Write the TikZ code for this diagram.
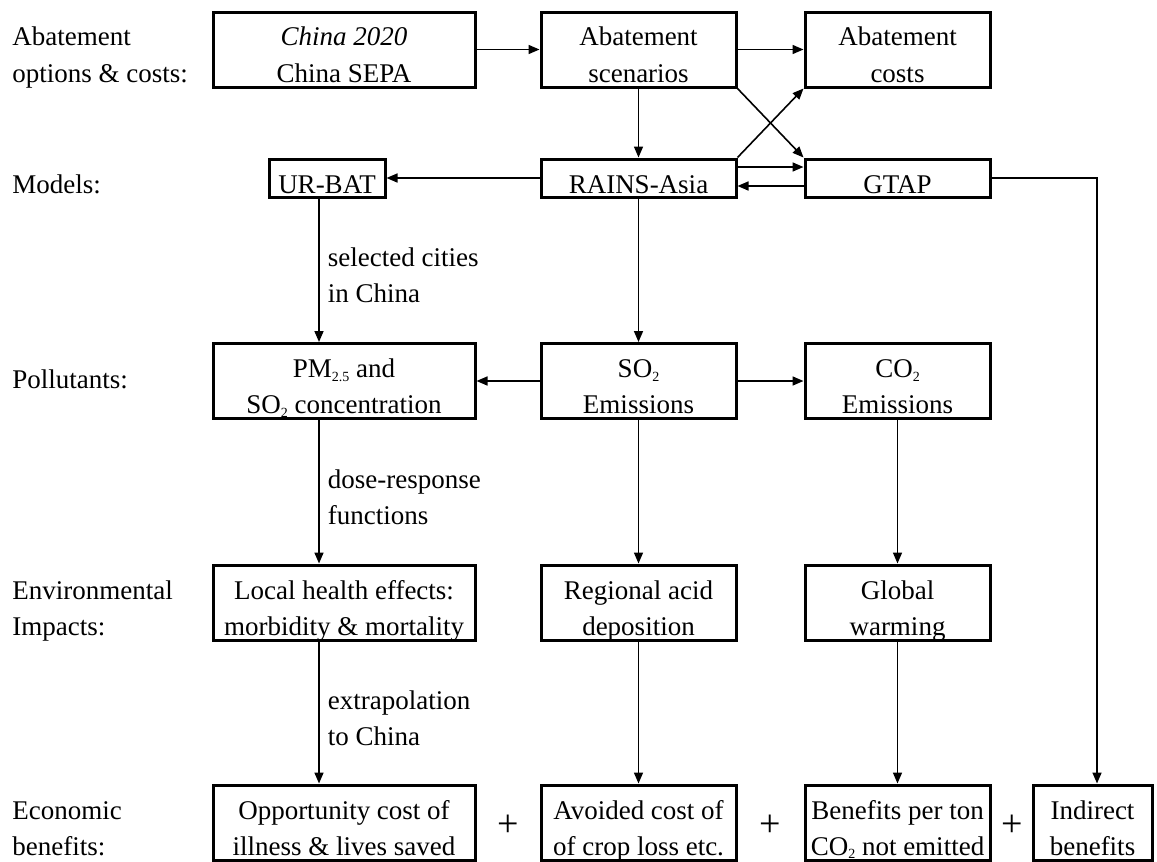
\documentclass[tikz,border=0pt]{standalone}
\usepackage{fontspec}
\setmainfont{Liberation Serif}
\usetikzlibrary{arrows.meta}
\tikzset{
  box/.style={draw, line width=1.5pt, inner sep=0pt, align=center, text depth=0pt, text height=32.5pt, minimum height=37.5pt},
  slim/.style={box, text height=15pt, minimum height=19pt},
  wa/.style={minimum width=131pt},
  wb/.style={minimum width=97.5pt},
  wc/.style={minimum width=92.5pt},
  title/.style={anchor=west, align=left, inner sep=0pt, text depth=0pt, text height=32.5pt},
  one/.style={text height=15pt},
  side/.style={midway, right=4pt, align=left, inner sep=0pt, text depth=0pt, text height=32.5pt},
  arr/.style={line width=0.8pt, -{Triangle[length=5.5pt,width=4.5pt]}},
  plus/.style={inner sep=0pt, font=\fontsize{19pt}{19pt}\selectfont},
}
\newcommand{\lowtext}[1]{\raisebox{-0.3ex}{\fontsize{7pt}{7pt}\selectfont #1}}

\begin{document}
\begin{tikzpicture}[x=0.5pt, y=-0.5pt, font=\fontsize{13.5pt}{18pt}\selectfont]
  \useasboundingbox (0,0) rectangle (1157,862);
  \coordinate (lx) at (319,0);

  % row titles
  \node[title] (t1) at (12,49.5) {Abatement\\options \& costs:};
  \node[title, one] (t2) at (12,178) {Models:};
  \node[title, one] (t3) at (12,373) {Pollutants:};
  \node[title] (t4) at (12,602.5) {Environmental\\Impacts:};
  \node[title] (t5) at (12,822.5) {Economic\\benefits:};

  % options and costs
  \node[box, wa] (china) at (344,49.5) {\textit{China 2020}\\China SEPA};
  \node[box, wb] (scen) at (638.5,49.5) {Abatement\\scenarios};
  \node[box, wc] (costs) at (897.5,49.5) {Abatement\\costs};

  % models
  \node[slim, minimum width=58pt] (urbat) at (327,178) {UR-BAT};
  \node[slim, wb] (rains) at (638.5,178) {RAINS-Asia};
  \node[slim, wc] (gtap) at (897.5,178) {GTAP};

  % pollutants
  \node[box, wa] (pm) at (344,381) {PM\lowtext{2.5} and\\SO\lowtext{2} concentration};
  \node[box, wb] (so2) at (638.5,381) {SO\lowtext{2}\\Emissions};
  \node[box, wc] (co2) at (897.5,381) {CO\lowtext{2}\\Emissions};

  % impacts
  \node[box, wa] (health) at (344,602.5) {Local health effects:\\morbidity \& mortality};
  \node[box, wb] (acid) at (638.5,602.5) {Regional acid\\deposition};
  \node[box, wc] (warm) at (897.5,602.5) {Global\\warming};

  % benefits
  \node[box, wa] (illness) at (344,822.5) {Opportunity cost of\\illness \& lives saved};
  \node[box, wb] (crop) at (638.5,822.5) {Avoided cost of\\of crop loss etc.};
  \node[box, wc] (perton) at (897.5,822.5) {Benefits per ton\\CO\lowtext{2} not emitted};
  \node[box, minimum width=59.5pt] (indirect) at (1092.5,822.5) {Indirect\\benefits};
  \node[plus] (p1) at (508,826) {+};
  \node[plus] (p2) at (770,826) {+};
  \node[plus] (p3) at (1012,826) {+};

  \draw[arr] (china) -- (scen);
  \draw[arr] (scen) -- (costs);
  \draw[arr] (scen) -- (rains);
  \draw[arr] (scen.south east) -- (gtap.north west);
  \draw[arr] (rains.north east) -- (costs.south west);
  \draw[arr] (rains) -- (urbat);
  \draw[arr] ([yshift=5.5pt]rains.east) -- ([yshift=5.5pt]gtap.west);
  \draw[arr] ([yshift=-4pt]gtap.west) -- ([yshift=-4pt]rains.east);
  \draw[arr] (gtap.east) -| ([xshift=2.25pt]indirect.north);

  \draw[arr] (urbat.south -| lx) -- node[side] {selected cities\\in China} (pm.north -| lx);
  \draw[arr] (rains) -- (so2);
  \draw[arr] (so2) -- (pm);
  \draw[arr] (so2) -- (co2);

  \draw[arr] (pm.south -| lx) -- node[side] {dose-response\\functions} (health.north -| lx);
  \draw[arr] (so2) -- (acid);
  \draw[arr] (co2) -- (warm);

  \draw[arr] (health.south -| lx) -- node[side] {extrapolation\\to China} (illness.north -| lx);
  \draw[arr] (acid) -- (crop);
  \draw[arr] (warm) -- (perton);
\end{tikzpicture}
\end{document}
